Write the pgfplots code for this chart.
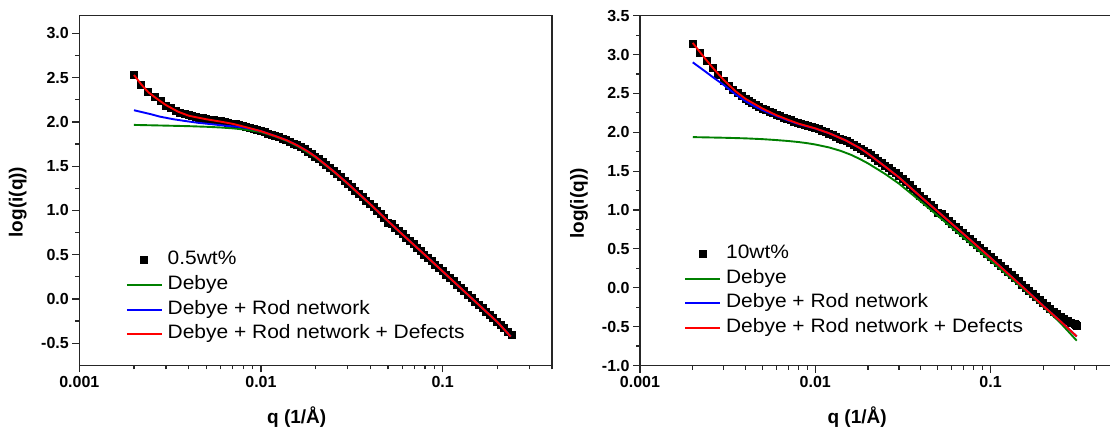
\documentclass[border=0pt]{standalone}
\usepackage{fontspec}
\setmainfont{Liberation Sans}
\newfontfamily\legfont{Liberation Sans}[FakeStretch=1.08]
\usepackage{pgfplots}
\usepackage{pgfplotstable}
\pgfplotsset{compat=1.18}

\definecolor{dgreen}{RGB}{0,128,0}
\definecolor{fblue}{RGB}{0,0,255}
\definecolor{fred}{RGB}{255,0,0}

% legend images: a 35pt line, or a single square in the middle of that width
\pgfplotsset{
  lineleg/.style={legend image code/.code={\draw[##1] (0pt,0pt) -- (35pt,0pt);}},
  markleg/.style={legend image code/.code={\draw[mark repeat=2,mark phase=2,##1]
    plot coordinates {(0pt,0pt)(17.5pt,0pt)(35pt,0pt)};}},
}

% ---------- 0.5 wt% ----------
\pgfplotstableread{
q y
0.0020 2.532
0.0022 2.420
0.0024 2.335
0.0026 2.284
0.0028 2.235
0.0030 2.183
0.0032 2.152
0.0034 2.125
0.0036 2.103
0.0038 2.086
0.0040 2.073
0.004169 2.066
0.004365 2.057
0.004571 2.048
0.004786 2.041
0.005012 2.034
0.005248 2.027
0.005495 2.020
0.005754 2.013
0.006026 2.005
0.006310 1.997
0.006607 1.989
0.006918 1.980
0.007244 1.971
0.007586 1.961
0.007943 1.950
0.008318 1.939
0.008710 1.928
0.009120 1.917
0.009550 1.906
0.01000 1.895
0.01047 1.882
0.01096 1.868
0.01148 1.854
0.01202 1.840
0.01259 1.825
0.01318 1.810
0.01380 1.793
0.01445 1.775
0.01514 1.756
0.01585 1.736
0.01660 1.714
0.01738 1.690
0.01820 1.664
0.01905 1.637
0.01995 1.608
0.02089 1.577
0.02188 1.545
0.02291 1.512
0.02399 1.478
0.02512 1.444
0.02630 1.409
0.02754 1.373
0.02884 1.336
0.03020 1.299
0.03162 1.261
0.03311 1.223
0.03467 1.185
0.03631 1.147
0.03802 1.109
0.03981 1.071
0.04169 1.033
0.04365 0.995
0.04571 0.957
0.04786 0.919
0.05012 0.861
0.05248 0.843
0.05495 0.805
0.05754 0.767
0.06026 0.729
0.06310 0.691
0.06607 0.653
0.06918 0.615
0.07244 0.577
0.07586 0.539
0.07943 0.501
0.08318 0.463
0.08710 0.425
0.09120 0.387
0.09550 0.349
0.1000 0.312
0.1047 0.274
0.1096 0.236
0.1148 0.198
0.1202 0.160
0.1259 0.122
0.1318 0.084
0.1380 0.046
0.1445 0.008
0.1514 -0.030
0.1585 -0.068
0.1660 -0.106
0.1738 -0.144
0.1820 -0.182
0.1905 -0.220
0.1995 -0.258
0.2089 -0.296
0.2188 -0.334
0.2291 -0.372
0.2399 -0.410
}\dataA

\pgfplotstableread{
q y
0.0020 1.966
0.0030 1.958
0.0040 1.952
0.0050 1.945
0.0060 1.937
0.0070 1.927
0.0080 1.915
0.0090 1.900
0.0100 1.885
0.0120 1.835
0.0140 1.782
0.0160 1.722
0.0200 1.598
0.0250 1.440
0.0300 1.300
0.0400 1.065
0.0500 0.878
0.0600 0.728
0.0800 0.494
0.1000 0.310
0.1500 -0.025
0.2000 -0.262
0.2370 -0.427
}\debyeA

\pgfplotstableread{
q y
0.0020 2.132
0.0025 2.085
0.00277 2.060
0.0033 2.030
0.0038 2.011
0.0045 1.990
0.0054 1.973
0.0065 1.955
0.0077 1.943
0.0090 1.918
0.0100 1.895
0.0120 1.840
0.0140 1.789
0.0160 1.730
0.0180 1.670
0.0200 1.606
0.0250 1.446
0.0300 1.305
0.0400 1.070
0.0500 0.880
0.0600 0.730
0.0800 0.496
0.1000 0.312
0.1500 -0.023
0.2000 -0.260
0.2370 -0.425
}\rodA

\pgfplotstableread{
q y
0.0020 2.530
0.0022 2.420
0.0024 2.335
0.0026 2.280
0.0028 2.233
0.0030 2.190
0.0035 2.115
0.0040 2.070
0.0050 2.030
0.0060 2.003
0.0070 1.978
0.0080 1.948
0.0090 1.920
0.0100 1.895
0.0120 1.840
0.0140 1.789
0.0160 1.730
0.0180 1.670
0.0200 1.606
0.0250 1.446
0.0300 1.305
0.0400 1.070
0.0500 0.880
0.0600 0.730
0.0800 0.496
0.1000 0.312
0.1500 -0.023
0.2000 -0.260
0.2370 -0.425
}\defectA

% ---------- 10 wt% ----------
\pgfplotstableread{
q y
0.0020 3.140
0.0022 3.020
0.0024 2.915
0.0026 2.825
0.0028 2.740
0.0030 2.665
0.0032 2.600
0.0034 2.550
0.0036 2.505
0.0038 2.465
0.0040 2.430
0.004169 2.405
0.004365 2.378
0.004571 2.352
0.004786 2.328
0.005012 2.305
0.005248 2.283
0.005495 2.262
0.005754 2.242
0.006026 2.223
0.006310 2.205
0.006607 2.187
0.006918 2.170
0.007244 2.154
0.007586 2.138
0.007943 2.123
0.008318 2.108
0.008710 2.094
0.009120 2.080
0.009550 2.067
0.01000 2.054
0.01047 2.036
0.01096 2.017
0.01148 1.998
0.01202 1.979
0.01259 1.959
0.01318 1.939
0.01380 1.919
0.01445 1.900
0.01514 1.882
0.01585 1.861
0.01660 1.839
0.01738 1.815
0.01820 1.790
0.01905 1.765
0.01995 1.734
0.02089 1.702
0.02188 1.670
0.02291 1.637
0.02399 1.604
0.02512 1.571
0.02630 1.540
0.02754 1.507
0.02884 1.471
0.03020 1.434
0.03162 1.396
0.03311 1.358
0.03467 1.318
0.03631 1.275
0.03802 1.232
0.03981 1.185
0.04169 1.143
0.04365 1.101
0.04571 1.061
0.04786 1.022
0.05012 0.963
0.05248 0.944
0.05495 0.905
0.05754 0.865
0.06026 0.826
0.06310 0.787
0.06607 0.748
0.06918 0.709
0.07244 0.669
0.07586 0.630
0.07943 0.591
0.08318 0.552
0.08710 0.513
0.09120 0.473
0.09550 0.434
0.1000 0.395
0.1047 0.356
0.1096 0.317
0.1148 0.277
0.1202 0.238
0.1259 0.199
0.1318 0.160
0.1380 0.121
0.1445 0.081
0.1514 0.042
0.1585 0.003
0.1660 -0.036
0.1738 -0.075
0.1820 -0.115
0.1905 -0.154
0.1995 -0.193
0.2089 -0.232
0.2188 -0.270
0.2291 -0.307
0.2399 -0.342
0.2512 -0.374
0.2630 -0.404
0.2754 -0.432
0.2884 -0.455
0.3020 -0.472
0.3050 -0.460
0.3090 -0.480
0.3100 -0.490
}\dataB

\pgfplotstableread{
q y
0.0020 1.938
0.0030 1.930
0.0040 1.922
0.0050 1.912
0.0060 1.900
0.0070 1.888
0.0080 1.875
0.0090 1.860
0.0100 1.843
0.0120 1.805
0.0140 1.760
0.0160 1.710
0.0180 1.655
0.0200 1.600
0.0250 1.465
0.0300 1.340
0.0400 1.110
0.0500 0.925
0.0600 0.775
0.0800 0.535
0.1000 0.350
0.1500 0.005
0.2000 -0.245
0.2500 -0.450
0.3100 -0.680
}\debyeB

\pgfplotstableread{
q y
0.0020 2.900
0.0023 2.800
0.0026 2.710
0.0030 2.610
0.0035 2.490
0.0040 2.400
0.0045 2.335
0.0050 2.285
0.0060 2.210
0.0070 2.152
0.0080 2.107
0.0100 2.048
0.0120 1.988
0.0150 1.893
0.0180 1.795
0.0200 1.725
0.0250 1.560
0.0300 1.420
0.0400 1.170
0.0500 0.980
0.0600 0.825
0.0800 0.578
0.1000 0.385
0.1500 0.025
0.2000 -0.235
0.2500 -0.430
0.3100 -0.625
}\rodB

\pgfplotstableread{
q y
0.0020 3.150
0.0022 3.030
0.0024 2.925
0.0026 2.830
0.0028 2.750
0.0030 2.675
0.0035 2.530
0.0040 2.430
0.0050 2.305
0.0060 2.220
0.0070 2.160
0.0080 2.112
0.0100 2.050
0.0120 1.988
0.0150 1.893
0.0180 1.795
0.0200 1.725
0.0250 1.560
0.0300 1.420
0.0400 1.170
0.0500 0.980
0.0600 0.825
0.0800 0.578
0.1000 0.385
0.1500 0.025
0.2000 -0.235
0.2500 -0.430
0.3100 -0.625
}\defectB

% shared look of both panels
\pgfplotsset{
  every axis/.append style={
    scale only axis,
    anchor=south west,
    clip marker paths=true,
    axis line style={line width=1.2pt, black!85},
    tick style={line width=1.2pt, black!85},
    tick align=outside,
    tick pos=left,
    major tick length=7pt,
    minor tick length=4pt,
    tick label style={font=\fontsize{16}{18}\selectfont\bfseries},
    label style={font=\fontsize{19}{22}\selectfont\bfseries},
    legend cell align=left,
    legend style={draw=none, fill=none, inner sep=0pt,
      font=\legfont\fontsize{19.4}{22}\selectfont, row sep=6.7pt,
      nodes={inner sep=0pt, text height=13.5pt, text depth=4.5pt},
      column sep=5pt},
  }
}

\begin{document}
\begin{tikzpicture}
% left panel: 0.5 wt%
\begin{axis}[
  xmode=log,
  at={(79.3pt,65.7pt)}, width=472.7pt, height=349.6pt,
  xmin=0.001, xmax=0.4, ymin=-0.75, ymax=3.2,
  xtick={0.001,0.01,0.1},
  xticklabels={0.001,0.01,0.1},
  minor xtick={0.002,0.003,0.004,0.005,0.006,0.007,0.008,0.009,
               0.02,0.03,0.04,0.05,0.06,0.07,0.08,0.09,0.2,0.3,0.4},
  ytick={-0.5,0,0.5,1,1.5,2,2.5,3},
  yticklabels={-0.5,0.0,0.5,1.0,1.5,2.0,2.5,3.0},
  minor ytick={-0.25,0.25,0.75,1.25,1.75,2.25,2.75},
  xlabel={q (1/Å)},
  ylabel={log(i(q))},
  xlabel style={at={(axis description cs:0.46,-0.148)}, anchor=center},
  ylabel style={at={(axis description cs:-0.13,0.467)}, anchor=center},
  legend style={at={(axis description cs:0.098,0.327)}, anchor=north west},
]
\addplot[only marks, mark=square*, mark size=3.5pt,
  mark options={fill=black, draw=black, line width=0pt}, markleg]
  table[x=q,y=y] {\dataA};
\addlegendentry{0.5wt\%}
\addplot[no marks, line width=1.9pt, dgreen, lineleg] table[x=q,y=y] {\debyeA};
\addlegendentry{Debye}
\addplot[no marks, line width=1.9pt, fblue, lineleg] table[x=q,y=y] {\rodA};
\addlegendentry{Debye + Rod network}
\addplot[no marks, line width=1.9pt, fred, lineleg] table[x=q,y=y] {\defectA};
\addlegendentry{Debye + Rod network + Defects}
\end{axis}

% right panel: 10 wt%
\begin{axis}[
  xmode=log,
  at={(640pt,65.5pt)}, width=473.1pt, height=349.8pt,
  xmin=0.001, xmax=0.5, ymin=-1.0, ymax=3.5,
  xtick={0.001,0.01,0.1},
  xticklabels={0.001,0.01,0.1},
  minor xtick={0.002,0.003,0.004,0.005,0.006,0.007,0.008,0.009,
               0.02,0.03,0.04,0.05,0.06,0.07,0.08,0.09,0.2,0.3,0.4},
  ytick={-1,-0.5,0,0.5,1,1.5,2,2.5,3,3.5},
  yticklabels={-1.0,-0.5,0.0,0.5,1.0,1.5,2.0,2.5,3.0,3.5},
  minor ytick={-0.75,-0.25,0.25,0.75,1.25,1.75,2.25,2.75,3.25},
  xlabel={q (1/Å)},
  ylabel={log(i(q))},
  xlabel style={at={(axis description cs:0.459,-0.148)}, anchor=center},
  ylabel style={at={(axis description cs:-0.129,0.463)}, anchor=center},
  legend style={at={(axis description cs:0.093,0.345)}, anchor=north west},
]
\addplot[only marks, mark=square*, mark size=3.5pt,
  mark options={fill=black, draw=black, line width=0pt}, markleg]
  table[x=q,y=y] {\dataB};
\addlegendentry{10wt\%}
\addplot[no marks, line width=1.9pt, dgreen, lineleg] table[x=q,y=y] {\debyeB};
\addlegendentry{Debye}
\addplot[no marks, line width=1.9pt, fblue, lineleg] table[x=q,y=y] {\rodB};
\addlegendentry{Debye + Rod network}
\addplot[no marks, line width=1.9pt, fred, lineleg] table[x=q,y=y] {\defectB};
\addlegendentry{Debye + Rod network + Defects}
\end{axis}

\pgfresetboundingbox
\path[use as bounding box] (0pt,0pt) rectangle (1110pt,431pt);
\end{tikzpicture}
\end{document}
